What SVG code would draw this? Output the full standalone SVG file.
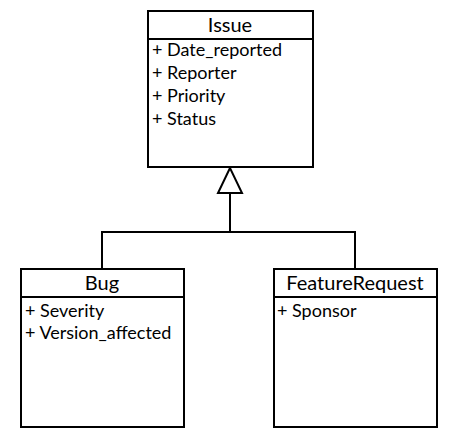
<svg xmlns="http://www.w3.org/2000/svg" width="450" height="435" viewBox="0 0 450 435">
<style>
.box{fill:#fff;stroke:#000;stroke-width:2}
.line{stroke:#000;stroke-width:2;fill:none}
.title{font-family:Lato,"Liberation Sans",sans-serif;font-size:20px;fill:#000;text-anchor:middle}
.attr{font-family:Lato,"Liberation Sans",sans-serif;font-size:18px;fill:#000}
</style>
<rect width="450" height="435" fill="#fff"/>
<g id="connectors">
<polyline class="line" points="102,268 102,232 355,232 355,268"/>
<line class="line" x1="230" y1="232" x2="230" y2="193"/>
<polygon class="box" points="230,168 218,193 242,193"/>
</g>
<g id="issue">
<rect class="box" x="148" y="11" width="165" height="156"/>
<line class="line" x1="148" y1="39" x2="313" y2="39"/>
<text class="title" x="230" y="32">Issue</text>
<text class="attr" x="152" y="56">+ Date_reported</text>
<text class="attr" x="152" y="79">+ Reporter</text>
<text class="attr" x="152" y="102">+ Priority</text>
<text class="attr" x="152" y="125">+ Status</text>
</g>
<g id="bug">
<rect class="box" x="21" y="269" width="163" height="158"/>
<line class="line" x1="21" y1="297" x2="184" y2="297"/>
<text class="title" x="102" y="290">Bug</text>
<text class="attr" x="25" y="317">+ Severity</text>
<text class="attr" x="25" y="339">+ Version_affected</text>
</g>
<g id="featurerequest">
<rect class="box" x="274" y="269" width="163" height="158"/>
<line class="line" x1="274" y1="297" x2="437" y2="297"/>
<text class="title" x="355" y="290">FeatureRequest</text>
<text class="attr" x="277" y="317">+ Sponsor</text>
</g>
</svg>
